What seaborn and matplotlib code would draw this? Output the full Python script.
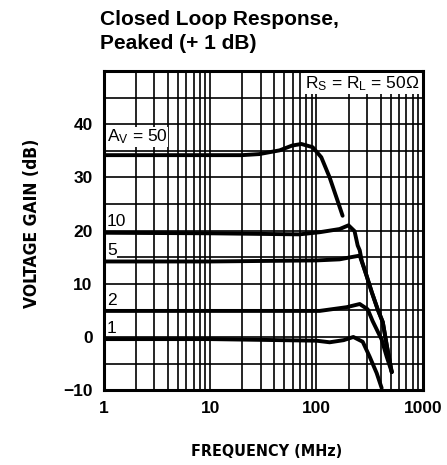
import pandas as pd
import matplotlib
matplotlib.use('Agg')
import matplotlib.pyplot as plt
import seaborn as sns

sns.set_theme(style='white')
plt.rcParams['font.family'] = ['Liberation Sans', 'DejaVu Sans']
plt.rcParams['mathtext.default'] = 'regular'
plt.rcParams['text.color'] = 'black'

# curves: frequency (MHz) vs voltage gain (dB)
freq_50 = [1, 10, 20, 29, 45, 59, 72, 92, 111, 133, 158, 176]
gain_50 = [34.2, 34.2, 34.2, 34.4, 35.1, 36.0, 36.3, 35.7, 33.8, 30.0, 25.6, 22.8]

freq_10 = [1, 10, 69, 107, 165, 200, 228, 244, 255, 266, 296, 330, 376, 420, 457, 510]
gain_10 = [19.6, 19.5, 19.3, 19.7, 20.3, 21.0, 19.9, 17.2, 16.3, 14.4, 11.5, 8.5, 5.2, 2.8, -1.5, -6.6]

freq_5 = [1, 10, 100, 165, 210, 255, 296, 330, 376, 420, 457, 510]
gain_5 = [14.2, 14.2, 14.4, 14.6, 15.0, 15.3, 11.5, 8.5, 5.2, 2.8, -1.5, -6.6]

freq_2 = [1, 10, 107, 192, 255, 303, 337, 410, 457, 510]
gain_2 = [4.9, 4.9, 4.9, 5.6, 6.2, 5.2, 3.0, -0.5, -3.7, -6.6]

freq_1 = [1, 10, 100, 133, 180, 222, 272, 316, 368, 410]
gain_1 = [-0.4, -0.4, -0.7, -1.0, -0.6, 0.0, -0.9, -3.7, -6.8, -9.6]

curve_names = ['A$_V$ = 50', '10', '5', '2', '1']
curve_freqs = [freq_50, freq_10, freq_5, freq_2, freq_1]
curve_gains = [gain_50, gain_10, gain_5, gain_2, gain_1]

x_ticks = [1, 10, 100, 1000]
y_ticks = [-10, 0, 10, 20, 30, 40]

df = pd.concat([pd.DataFrame({'freq': f, 'gain': g, 'curve': n})
                for n, f, g in zip(curve_names, curve_freqs, curve_gains)])

fig = plt.figure(figsize=(4.47, 4.65), dpi=100)
ax = fig.add_axes([0.232, 0.161, 0.714, 0.686])

sns.lineplot(data=df, x='freq', y='gain', units='curve', estimator=None, sort=False,
             color='black', lw=2.8, ax=ax, zorder=5)

ax.set_xscale('log')
ax.set_xlim(1, 1000)
ax.set_ylim(-10, 50)
ax.set_xticks(x_ticks)
ax.set_xticklabels([str(t) for t in x_ticks])
ax.set_xticks([m * 10 ** d for d in range(3) for m in range(2, 10)], minor=True)
ax.set_yticks(y_ticks)
ax.set_yticks([-5, 5, 15, 25, 35, 45], minor=True)
ax.xaxis.set_minor_formatter(plt.NullFormatter())
ax.grid(which='both', color='black', lw=1.2)
ax.tick_params(which='both', length=0, labelsize=12.5, colors='black')
ax.tick_params(axis='x', pad=8)
ax.tick_params(axis='y', pad=8)
for lab in ax.get_xticklabels() + ax.get_yticklabels():
    lab.set_fontweight('bold')
for sp in ax.spines.values():
    sp.set_color('black')
    sp.set_linewidth(2.2)
ax.set_xlabel('')
ax.set_ylabel('')

# curve labels just above each flat section
box = dict(facecolor='white', edgecolor='none', pad=0.5)
offsets = [2.6, 1.2, 1.2, 1.2, 1.2]
for n, g, off in zip(curve_names, curve_gains, offsets):
    ax.text(1.07, g[0] + off, n, fontsize=12.5, ha='left', va='baseline',
            bbox=box, zorder=6)

ax.text(0.99, 0.99, 'R$_S$ = R$_L$ = 50Ω', transform=ax.transAxes, fontsize=12.5,
        ha='right', va='top', zorder=6,
        bbox=dict(facecolor='white', edgecolor='none', pad=1.0))

fig.text(0.224, 0.978, 'Closed Loop Response,\nPeaked (+ 1 dB)', fontsize=15,
         fontweight='bold', ha='left', va='top', linespacing=1.3)
fig.text(0.072, 0.52, 'VOLTAGE GAIN (dB)', rotation=90, fontsize=12.5,
         fontweight='bold', family='DejaVu Sans', stretch='condensed',
         ha='center', va='center')
fig.text(0.597, 0.028, 'FREQUENCY (MHz)', fontsize=11.5, fontweight='bold',
         family='DejaVu Sans', stretch='condensed', ha='center', va='center')

fig.savefig('out.png', dpi=100)
